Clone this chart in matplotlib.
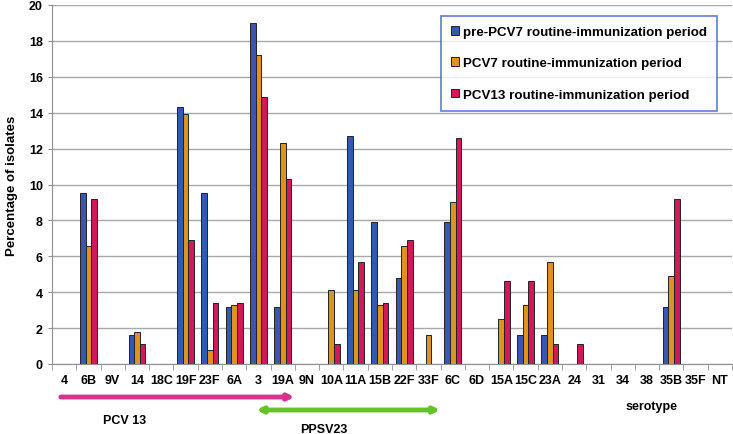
import numpy as np
import matplotlib
matplotlib.use("Agg")
import matplotlib.pyplot as plt

plt.rcParams['font.family'] = ['Liberation Sans', 'DejaVu Sans']
plt.rcParams['font.weight'] = 'bold'

serotypes = ['4', '6B', '9V', '14', '18C', '19F', '23F', '6A', '3', '19A', '9N',
             '10A', '11A', '15B', '22F', '33F', '6C', '6D', '15A', '15C', '23A',
             '24', '31', '34', '38', '35B', '35F', 'NT']
pre_pcv7 = [0, 9.5, 0, 1.6, 0, 14.3, 9.5, 3.2, 19.0, 3.2, 0,
            0, 12.7, 7.9, 4.8, 0, 7.9, 0, 0, 1.6, 1.6,
            0, 0, 0, 0, 3.2, 0, 0]
pcv7 = [0, 6.6, 0, 1.8, 0, 13.9, 0.8, 3.3, 17.2, 12.3, 0,
        4.1, 4.1, 3.3, 6.6, 1.6, 9.0, 0, 2.5, 3.3, 5.7,
        0, 0, 0, 0, 4.9, 0, 0]
pcv13 = [0, 9.2, 0, 1.1, 0, 6.9, 3.4, 3.4, 14.9, 10.3, 0,
         1.1, 5.7, 3.4, 6.9, 0, 12.6, 0, 4.6, 4.6, 1.1,
         1.1, 0, 0, 0, 9.2, 0, 0]
series_labels = ['pre-PCV7 routine-immunization period',
                 'PCV7 routine-immunization period',
                 'PCV13 routine-immunization period']
colors = ['#3558B0', '#E0921E', '#D0185A']

fig = plt.figure(figsize=(7.33, 4.35), dpi=100)
ax = fig.add_axes([52 / 733, 1 - 365 / 435, 680 / 733, 359 / 435])

x = np.arange(len(serotypes))
w = 0.23
for i, (vals, lab, c) in enumerate(zip([pre_pcv7, pcv7, pcv13], series_labels, colors)):
    ax.bar(x + (i - 1) * w, vals, w, color=c, edgecolor='#222222', linewidth=0.7,
           label=lab, zorder=3)

ax.set_xlim(-0.5, len(serotypes) - 0.5)
ax.set_ylim(0, 20)
ax.set_yticks(np.arange(0, 21, 2))
ax.yaxis.grid(True, color='#A8A8A8', linewidth=1.0, zorder=0)
ax.set_axisbelow(True)
for s in ['top', 'right']:
    ax.spines[s].set_visible(False)
ax.spines['left'].set_color('#909090')
ax.spines['bottom'].set_color('#909090')

ax.set_xticks(x)
ax.set_xticklabels(serotypes, fontsize=9, fontweight='bold')
ax.tick_params(axis='x', length=0, pad=7)
ax.set_xticks(np.arange(-0.5, len(serotypes), 1), minor=True)
ax.tick_params(axis='x', which='minor', length=4, color='#909090')
ax.tick_params(axis='y', length=3, color='#909090', labelsize=9)
for t in ax.get_yticklabels():
    t.set_fontweight('bold')
ax.set_ylabel('Percentage of isolates', fontsize=9.5, fontweight='bold', labelpad=8)

leg = ax.legend(loc='upper left', bbox_to_anchor=((441 - 52) / 680, 1 - 11 / 359),
                frameon=True, fancybox=False, handlelength=0.6,
                handleheight=0.6, handletextpad=0.3, labelspacing=1.45,
                borderpad=0.75, borderaxespad=0,
                prop={'weight': 'bold', 'size': 9.6})
leg.get_frame().set_edgecolor('#3B5CC4')
leg.get_frame().set_linewidth(1.2)

# vaccine coverage arrows below the axis
trans = ax.get_xaxis_transform()
ax.annotate('', xy=(9.6, -33 / 359), xytext=(-0.25, -33 / 359), xycoords=trans,
            arrowprops=dict(arrowstyle='-|>', color='#D6338A', lw=3.5,
                            mutation_scale=8), annotation_clip=False)
ax.annotate('', xy=(15.6, -46 / 359), xytext=(7.8, -46 / 359), xycoords=trans,
            arrowprops=dict(arrowstyle='<|-|>', color='#66C22A', lw=3.5,
                            mutation_scale=8), annotation_clip=False)
ax.text(2.5, -56 / 359, 'PCV 13', transform=trans, ha='center', va='center',
        fontsize=9, fontweight='bold')
ax.text(10.7, -65 / 359, 'PPSV23', transform=trans, ha='center', va='center',
        fontsize=9, fontweight='bold')
ax.text(24.2, -42 / 359, 'serotype', transform=trans, ha='center', va='center',
        fontsize=9, fontweight='bold')

fig.savefig('out.png', dpi=100)
